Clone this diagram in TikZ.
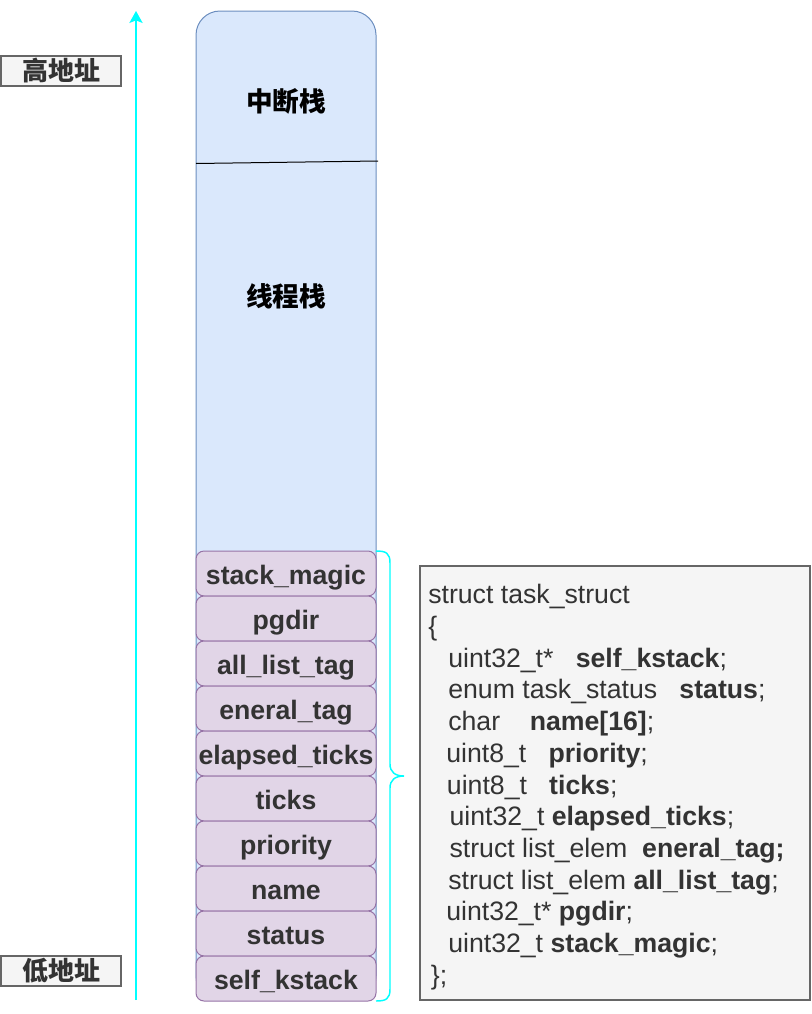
\documentclass[tikz,border=0pt]{standalone}
\usepackage{fontspec}
\setmainfont{Liberation Sans}
\newfontfamily\cjk{Noto Sans CJK SC}
\usetikzlibrary{arrows.meta}

\definecolor{stackfill}{RGB}{218,232,252}
\definecolor{stackline}{RGB}{108,142,191}
\definecolor{fieldfill}{RGB}{225,213,231}
\definecolor{fieldline}{RGB}{150,115,166}
\definecolor{notefill}{RGB}{245,245,245}
\definecolor{noteline}{RGB}{102,102,102}
\definecolor{notetext}{RGB}{51,51,51}
\definecolor{axiscyan}{RGB}{0,255,255}

\tikzset{
  stackbox/.style={draw=stackline, fill=stackfill, line width=0.75pt, rounded corners=18pt},
  fieldbox/.style={draw=fieldline, fill=fieldfill, line width=0.75pt, rounded corners=6pt},
  graybox/.style={draw=noteline, fill=notefill, line width=1.1pt},
  stacktext/.style={inner sep=0.75pt, font=\cjk\bfseries\fontsize{20}{24}\selectfont},
  fieldtext/.style={anchor=base, inner sep=0pt, text=notetext, font=\fontsize{20}{24}\selectfont\bfseries},
  addrtext/.style={inner sep=0.75pt, text=notetext, font=\cjk\bfseries\fontsize{19.5}{23}\selectfont},
  codetext/.style={anchor=north west, inner sep=0pt, align=left, text=notetext, font=\fontsize{20}{23.8}\selectfont},
  cyanline/.style={draw=axiscyan, line width=1.1pt}
}

\begin{document}
\begin{tikzpicture}[x=0.75pt,y=0.75pt,yscale=-1,xscale=1]
\useasboundingbox (0,0) rectangle (812,1014);

%Rounded Rect: whole stack
\draw [stackbox] (196,11) rectangle (376,1000);
%Straight Lines
\draw [black, line width=0.75pt] (196,163.5) -- (378,161);
% Text Node
\draw (286,101) node [stacktext] (irqstack) {中断栈};
% Text Node
\draw (286,296) node [stacktext] (threadstack) {线程栈};

%task_struct fields, top to bottom
\foreach \fld [count=\i from 0] in {stack\_magic, pgdir, all\_list\_tag, eneral\_tag, elapsed\_ticks, ticks, priority, name, status, self\_kstack} {
  \draw [fieldbox] (196,551+45*\i) rectangle (376,596+45*\i);
  \draw (286,584+45*\i) node [fieldtext] (field\i) {\fld};
}

%address axis
\coordinate (lowaddr) at (136,1000);
\coordinate (highaddr) at (136,11);
\draw [cyanline, -{Stealth[length=9pt, width=10pt, inset=2pt]}] (lowaddr) -- (highaddr);

%Rect: high / low labels
\draw [graybox] (1,56) rectangle (121,86);
\draw (61,71) node [addrtext] (high) {高地址};
\draw [graybox] (1,956) rectangle (121,986);
\draw (61,971) node [addrtext] (low) {低地址};

%Curve Lines: brace
\coordinate (bracetop) at (376,551);
\coordinate (bracetip) at (404,776);
\coordinate (bracebot) at (376,1001);
\draw [cyanline] (bracetop) .. controls (386,551) and (390,553) .. (390,563) -- (390,764)
  .. controls (390,772) and (395,776) .. (bracetip)
  .. controls (395,776) and (390,780) .. (390,788) -- (390,989)
  .. controls (390,999) and (386,1001) .. (bracebot);

%Rect: struct listing
\draw [graybox] (420,566) rectangle (810,1000);
% Text Node
\draw (428,584) node [codetext] (structcode) {%
struct task\_struct\\
\{\\
\hspace*{15pt}uint32\_t*~~~\textbf{self\_kstack};\\
\hspace*{15pt}enum task\_status~~~\textbf{status};\\
\hspace*{15pt}char~~~~\textbf{name[16]};\\
\hspace*{13.5pt}uint8\_t~~~\textbf{priority};\\
\hspace*{14pt}uint8\_t~~~\textbf{ticks};\\
\hspace*{16pt}uint32\_t \textbf{elapsed\_ticks};\\
\hspace*{16pt}struct list\_elem~~\textbf{eneral\_tag;}\\
\hspace*{15pt}struct list\_elem \textbf{all\_list\_tag};\\
\hspace*{13.5pt}uint32\_t* \textbf{pgdir};\\
\hspace*{15pt}uint32\_t \textbf{stack\_magic};\\
\hspace*{2pt}\};};

\end{tikzpicture}
\end{document}
